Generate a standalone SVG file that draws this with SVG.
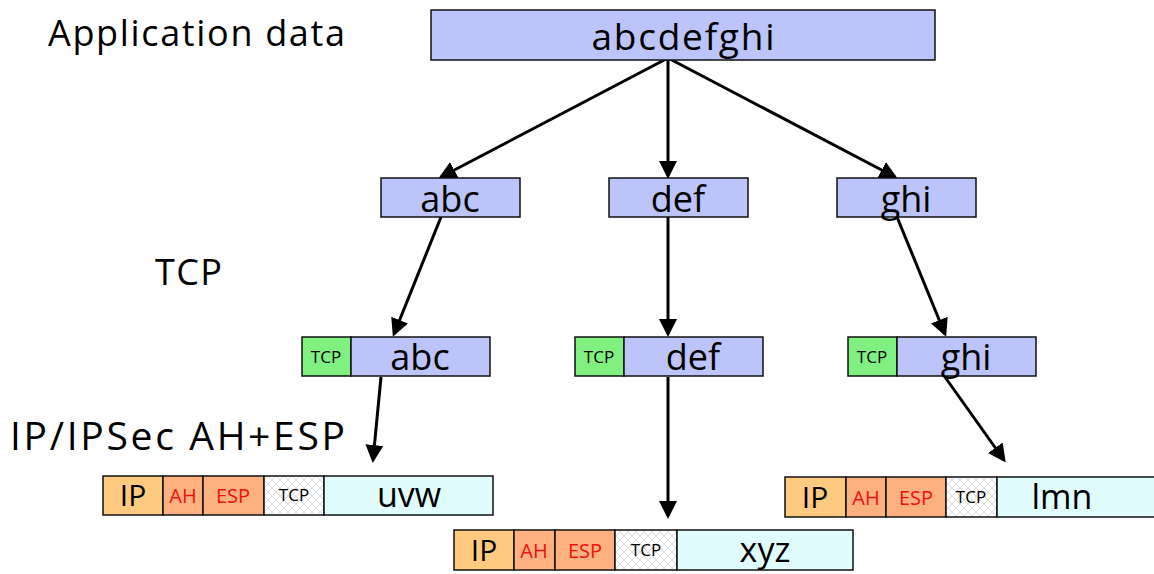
<svg xmlns="http://www.w3.org/2000/svg" width="1154" height="574" viewBox="0 0 1154 574">
  <style>
    text { font-family: "Open Sans", "DejaVu Sans", sans-serif; fill: #000; }
    .box { stroke: #111; stroke-width: 1.5; }
    .data { fill: #bcc4f9; }
    .tcp { fill: #80f080; }
    .ip { fill: #fdca80; }
    .sec { fill: #fdb080; }
    .thdr { fill: url(#hatch); }
    .pay { fill: #e0fcfc; }
    .lbl { font-size: 36px; }
    .big { font-size: 37px; text-anchor: middle; }
    .mid { font-size: 36px; text-anchor: middle; }
    .pl { font-size: 34px; text-anchor: middle; }
    .ipt { font-size: 30px; text-anchor: middle; }
    .small { font-size: 17px; text-anchor: middle; }
    .red { font-size: 20px; text-anchor: middle; fill: #f01010; }
    .edge { stroke: #000; stroke-width: 3; fill: none; marker-end: url(#arrow); }
  </style>
  <defs>
    <pattern id="hatch" width="8" height="8" patternUnits="userSpaceOnUse">
      <rect width="8" height="8" fill="#ffffff"/>
      <path d="M0 0 L8 8 M8 0 L0 8" stroke="#dcdcdc" stroke-width="1"/>
    </pattern>
    <marker id="arrow" markerWidth="6" markerHeight="6" refX="5" refY="3" orient="auto" markerUnits="strokeWidth">
      <path d="M0 0 L6 3 L0 6 Z" fill="#000"/>
    </marker>
  </defs>

  <!-- side labels -->
  <text class="lbl" x="48" y="46" textLength="297" lengthAdjust="spacing">Application data</text>
  <text class="lbl" x="155" y="285" textLength="67" lengthAdjust="spacing">TCP</text>
  <text class="lbl" x="10" y="450" style="font-size:39px" textLength="335" lengthAdjust="spacing">IP/IPSec AH+ESP</text>

  <!-- connectors -->
  <g id="connectors">
    <line class="edge" x1="668" y1="58" x2="441" y2="177"/>
    <line class="edge" x1="668" y1="58" x2="668" y2="176"/>
    <line class="edge" x1="668" y1="58" x2="895" y2="177"/>
    <line class="edge" x1="441" y1="217" x2="394" y2="334"/>
    <line class="edge" x1="668" y1="217" x2="668" y2="334"/>
    <line class="edge" x1="897" y1="217" x2="945" y2="334"/>
    <line class="edge" x1="381" y1="377" x2="373" y2="460"/>
    <line class="edge" x1="668" y1="377" x2="668" y2="516"/>
    <line class="edge" x1="945" y1="377" x2="1004" y2="460"/>
  </g>

  <!-- application data -->
  <g id="app">
    <rect class="box data" x="431" y="10" width="504" height="50"/>
    <text class="big" x="683" y="50" textLength="183" lengthAdjust="spacing">abcdefghi</text>
  </g>

  <!-- segments -->
  <g id="seg-abc">
    <rect class="box data" x="381" y="178" width="139" height="39"/>
    <text class="mid" x="450" y="212">abc</text>
  </g>
  <g id="seg-def">
    <rect class="box data" x="609" y="178" width="139" height="39"/>
    <text class="mid" x="678" y="212">def</text>
  </g>
  <g id="seg-ghi">
    <rect class="box data" x="837" y="178" width="139" height="39"/>
    <text class="mid" x="906" y="212">ghi</text>
  </g>

  <!-- TCP segments -->
  <g id="tcp-abc">
    <rect class="box tcp" x="302" y="337" width="49" height="39"/>
    <text class="small" x="326" y="363">TCP</text>
    <rect class="box data" x="351" y="337" width="139" height="39"/>
    <text class="mid" x="420" y="370">abc</text>
  </g>
  <g id="tcp-def">
    <rect class="box tcp" x="575" y="337" width="49" height="39"/>
    <text class="small" x="599" y="363">TCP</text>
    <rect class="box data" x="624" y="337" width="139" height="39"/>
    <text class="mid" x="693" y="370">def</text>
  </g>
  <g id="tcp-ghi">
    <rect class="box tcp" x="848" y="337" width="49" height="39"/>
    <text class="small" x="872" y="363">TCP</text>
    <rect class="box data" x="897" y="337" width="139" height="39"/>
    <text class="mid" x="966" y="370">ghi</text>
  </g>

  <!-- IP packets -->
  <g id="pkt-uvw">
    <rect class="box ip" x="103" y="476" width="60" height="39"/>
    <text class="ipt" x="133" y="506">IP</text>
    <rect class="box sec" x="163" y="476" width="40" height="39"/>
    <text class="red" x="183" y="503">AH</text>
    <rect class="box sec" x="203" y="476" width="61" height="39"/>
    <text class="red" x="233" y="503">ESP</text>
    <rect class="box thdr" x="264" y="476" width="60" height="39"/>
    <text class="small" x="294" y="501">TCP</text>
    <rect class="box pay" x="324" y="476" width="169" height="39"/>
    <text class="pl" x="409" y="507">uvw</text>
  </g>
  <g id="pkt-xyz">
    <rect class="box ip" x="454" y="530" width="60" height="40"/>
    <text class="ipt" x="484" y="561">IP</text>
    <rect class="box sec" x="514" y="530" width="41" height="40"/>
    <text class="red" x="534" y="558">AH</text>
    <rect class="box sec" x="555" y="530" width="60" height="40"/>
    <text class="red" x="585" y="558">ESP</text>
    <rect class="box thdr" x="615" y="530" width="62" height="40"/>
    <text class="small" x="646" y="556">TCP</text>
    <rect class="box pay" x="677" y="530" width="176" height="40"/>
    <text class="pl" x="765" y="562">xyz</text>
  </g>
  <g id="pkt-lmn">
    <rect class="box ip" x="785" y="477" width="61" height="40"/>
    <text class="ipt" x="815" y="508">IP</text>
    <rect class="box sec" x="846" y="477" width="40" height="40"/>
    <text class="red" x="866" y="505">AH</text>
    <rect class="box sec" x="886" y="477" width="60" height="40"/>
    <text class="red" x="916" y="505">ESP</text>
    <rect class="box thdr" x="946" y="477" width="51" height="40"/>
    <text class="small" x="971" y="503">TCP</text>
    <rect class="box pay" x="997" y="477" width="160" height="40"/>
    <text class="pl" x="1062" y="509">lmn</text>
  </g>
</svg>
